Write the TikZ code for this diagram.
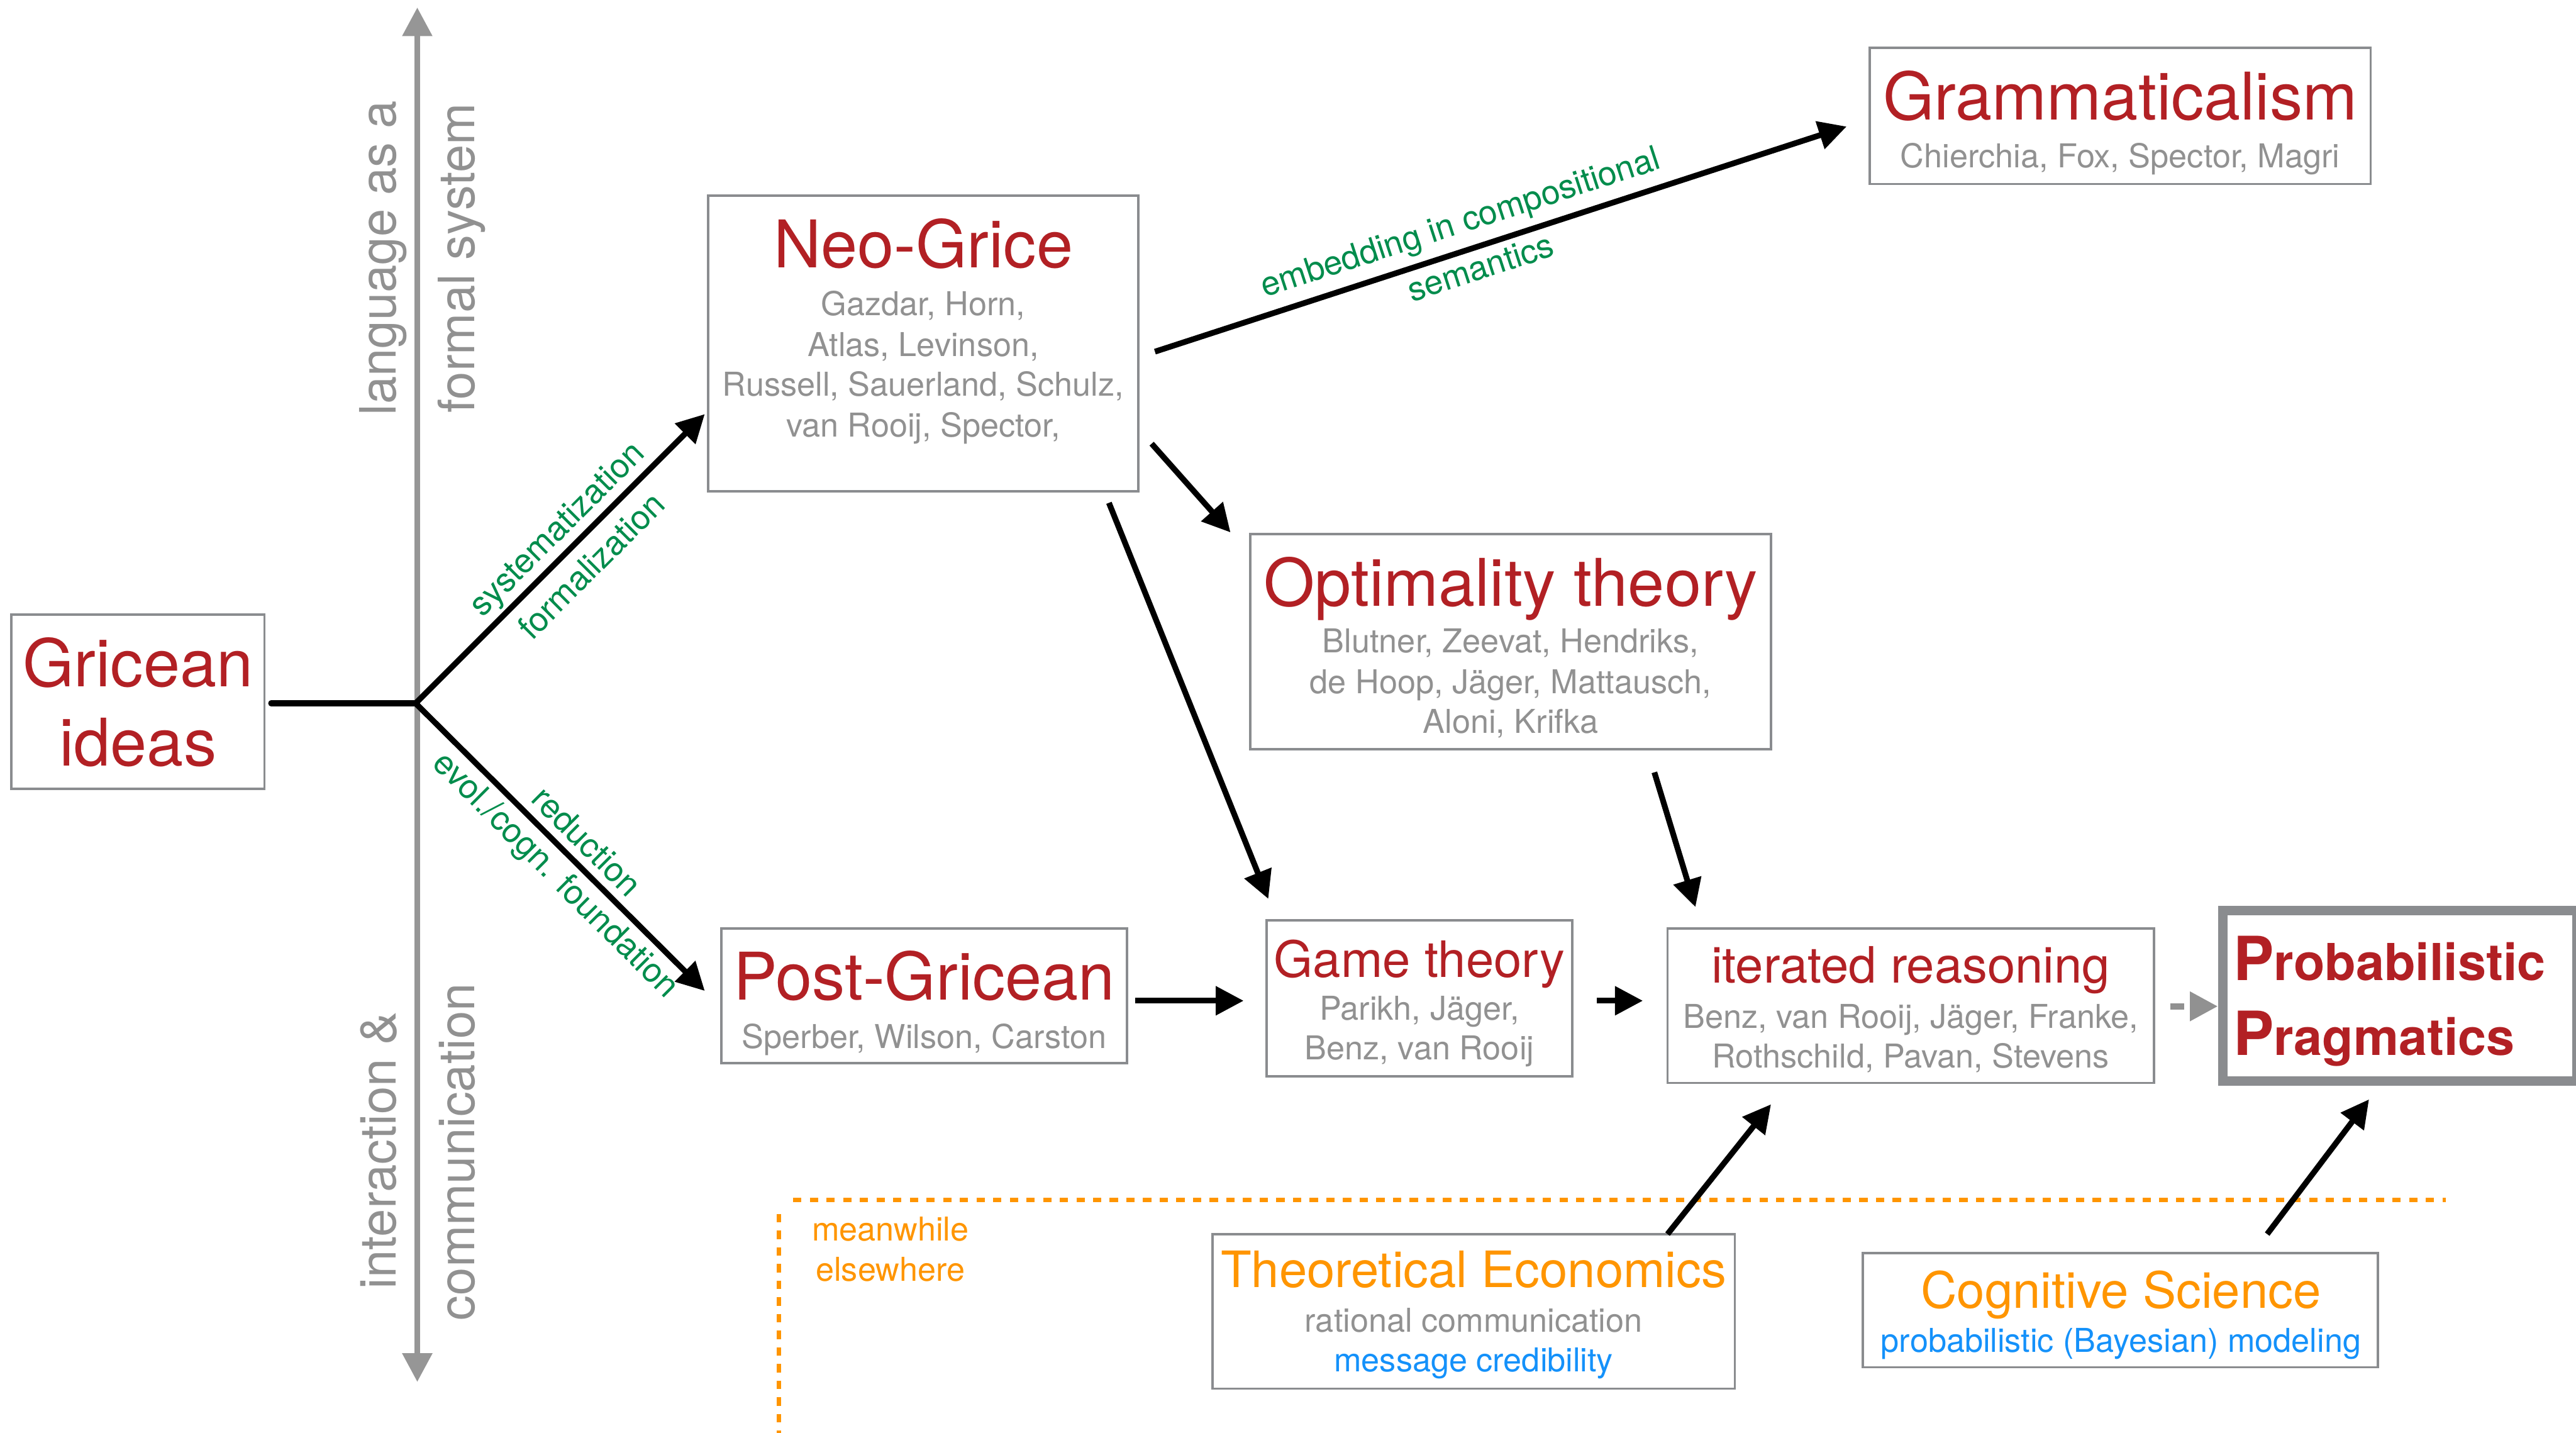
\documentclass[tikz,border=0pt]{standalone}
\usepackage{fontspec}
\setmainfont{TeX Gyre Heros}
\usetikzlibrary{arrows.meta,fit}

\definecolor{titlered}{RGB}{178,32,36}
\definecolor{namegray}{RGB}{145,145,145}
\definecolor{framegray}{RGB}{138,140,143}
\definecolor{axisgray}{RGB}{150,150,150}
\definecolor{labelgreen}{RGB}{0,140,76}
\definecolor{sideorange}{RGB}{255,149,0}
\definecolor{linkblue}{RGB}{20,145,250}

\begin{document}
\begin{tikzpicture}[x=1pt,y=-1pt,
  every node/.style={inner sep=0pt,outer sep=0pt},
  namebox/.style={draw=framegray,line width=1.4pt},
  heavybox/.style={draw=framegray,line width=5.7pt},
  bigtitle/.style={anchor=base,text=titlered,font=\fontsize{40}{48}\selectfont},
  midtitle/.style={anchor=base,text=titlered,font=\fontsize{30.5}{36}\selectfont},
  names/.style={anchor=base,text=namegray,font=\fontsize{20}{24}\selectfont},
  axislabel/.style={anchor=base,rotate=90,text=namegray,font=\fontsize{30.5}{36}\selectfont},
  edgelabel/.style={text=labelgreen,font=\fontsize{20.5}{24}\selectfont},
  linkarrow/.style={line width=3.5pt,-{Triangle[length=17pt,width=17pt]}},
  softarrow/.style={draw=namegray,line width=4pt,dash pattern=on 8.5pt off 20pt,-{Triangle[length=17pt,width=17pt]}},
  axisline/.style={draw=axisgray,line width=3.7pt,{Triangle[length=17.5pt,width=17.5pt]}-{Triangle[length=17.5pt,width=17.5pt]}},
  divline/.style={draw=sideorange,line width=2.6pt,dash pattern=on 5.07pt off 5.07pt},
]
\useasboundingbox (0,0) rectangle (1568,872);

% ---------- vertical orientation axis ----------
\coordinate (axtop) at (254,4.5);
\coordinate (axbot) at (254,841);
\draw[axisline] (axbot) -- (axtop);
\node[axislabel] (lang)   at (241,157) {language as a};
\node[axislabel] (formal) at (289,157) {formal system};
\node[axislabel] (inter)  at (241,700) {interaction \&};
\node[axislabel] (comm)   at (289,701) {communication};

% ---------- boxes ----------
\node[namebox,fit={(7,374) (161,480)}] (gricean) {};
\node[bigtitle] (gricean1) at (84,418) {Gricean};
\node[bigtitle] (gricean2) at (84,466) {ideas};

\node[namebox,fit={(431,119) (693,299)}] (neo) {};
\node[bigtitle] (neot) at (562,163) {Neo-Grice};
\node[names] (neo1) at (562,192) {Gazdar, Horn,};
\node[names] (neo2) at (562,217) {Atlas, Levinson,};
\node[names] (neo3) at (562,241) {Russell, Sauerland, Schulz,};
\node[names] (neo4) at (562,266) {van Rooij, Spector,};

\node[namebox,fit={(1138,29) (1443,112)}] (gram) {};
\node[bigtitle] (gramt) at (1290.5,73) {Grammaticalism};
\node[names] (gram1) at (1290.5,102) {Chierchia, Fox, Spector, Magri};

\node[namebox,fit={(761,325) (1078,456)}] (opt) {};
\node[bigtitle] (optt) at (919.5,369) {Optimality theory};
\node[names] (opt1) at (919.5,397) {Blutner, Zeevat, Hendriks,};
\node[names] (opt2) at (919.5,422) {de Hoop, Jäger, Mattausch,};
\node[names] (opt3) at (919.5,446) {Aloni, Krifka};

\node[namebox,fit={(439,565) (686,647)}] (post) {};
\node[bigtitle] (postt) at (562.5,608.6) {Post-Gricean};
\node[names] (post1) at (562.5,638) {Sperber, Wilson, Carston};

\node[namebox,fit={(771,560) (957,655)}] (game) {};
\node[midtitle] (gamet) at (864,594.6) {Game theory};
\node[names] (game1) at (864,620.7) {Parikh, Jäger,};
\node[names] (game2) at (864,645) {Benz, van Rooij};

\node[namebox,fit={(1015,565) (1311,659)}] (iter) {};
\node[midtitle] (itert) at (1163,598) {iterated reasoning};
\node[names] (iter1) at (1163,625.6) {Benz, van Rooij, Jäger, Franke,};
\node[names] (iter2) at (1163,650) {Rothschild, Pavan, Stevens};

\node[heavybox,fit={(1353,554) (1568.5,658)}] (prob) {};
\node[anchor=base west,text=titlered,font=\bfseries\fontsize{31}{36}\selectfont] (prob1) at (1359.5,596.7) {{\fontsize{37}{40}\selectfont P}robabilistic};
\node[anchor=base west,text=titlered,font=\bfseries\fontsize{31}{36}\selectfont] (prob2) at (1359.5,642) {{\fontsize{37}{40}\selectfont P}ragmatics};

\node[namebox,fit={(738,751) (1056,845)}] (econ) {};
\node[midtitle,text=sideorange] (econt) at (897,783.4) {Theoretical Economics};
\node[names] (econ1) at (897,810.5) {rational communication};
\node[names,text=linkblue] (econ2) at (897,834.8) {message credibility};

\node[namebox,fit={(1134,762.5) (1447.5,832)}] (cog) {};
\node[midtitle,text=sideorange] (cogt) at (1291,796) {Cognitive Science};
\node[names,text=linkblue] (cog1) at (1291,822.7) {probabilistic (Bayesian) modeling};

% ---------- the "meanwhile elsewhere" divider ----------
\coordinate (divL) at (482.8,730.3);
\coordinate (divR) at (1488.7,730.3);
\coordinate (divT) at (474.2,738.8);
\coordinate (divB) at (474.2,880);
\draw[divline] (divL) -- (divR);
\draw[divline] (divT) -- (divB);
\node[names,text=sideorange] (mw1) at (542,755) {meanwhile};
\node[names,text=sideorange] (mw2) at (542,779.6) {elsewhere};

% ---------- connector end points ----------
\coordinate (gout)   at (165,428);
\coordinate (fork)   at (253,428);
\coordinate (neoin)  at (429,252);
\coordinate (postin) at (429,603);
\coordinate (neoA)   at (703,214);
\coordinate (gramin) at (1124,77);
\coordinate (neoB)   at (701,270);
\coordinate (optin)  at (749,324);
\coordinate (neoC)   at (675,306);
\coordinate (gamein) at (772,547);
\coordinate (postout) at (691,609);
\coordinate (gameL)  at (757,609);
\coordinate (gameout) at (972,609);
\coordinate (iterL)  at (1000,609);
\coordinate (optout) at (1007,470);
\coordinate (iterin) at (1032,552);
\coordinate (econout) at (1015,751);
\coordinate (iterB)  at (1078,672);
\coordinate (cogout) at (1380,751);
\coordinate (probB)  at (1442,669);
\coordinate (iterout) at (1321,612.4);
\coordinate (probL)  at (1350,612.4);

% ---------- connectors ----------
\draw[line width=3.5pt,line cap=round] (gout) -- (fork);
\draw[linkarrow,line cap=round] (fork) -- (neoin);
\draw[linkarrow,line cap=round] (fork) -- (postin);
\draw[linkarrow] (neoA) -- (gramin);
\draw[linkarrow] (neoB) -- (optin);
\draw[linkarrow] (neoC) -- (gamein);
\draw[linkarrow] (postout) -- (gameL);
\draw[linkarrow] (gameout) -- (iterL);
\draw[linkarrow] (optout) -- (iterin);
\draw[linkarrow] (econout) -- (iterB);
\draw[linkarrow] (cogout) -- (probB);
\draw[softarrow] (iterout) -- (probL);

% ---------- connector labels ----------
\node[edgelabel,rotate=45] (lsys) at (340,323) {systematization};
\node[edgelabel,rotate=45] (lform) at (359.7,344) {formalization};
\node[edgelabel,rotate=-45] (lred) at (357.3,511.8) {reduction};
\node[edgelabel,rotate=-45] (levol) at (337.5,533.1) {evol./cogn. foundation};
\node[edgelabel,rotate=18.03,anchor=base west] (lemb) at (770,181) {embedding in compositional};
\node[edgelabel,rotate=18.03,anchor=base west] (lsem) at (859.5,183.8) {semantics};
\end{tikzpicture}
\end{document}
